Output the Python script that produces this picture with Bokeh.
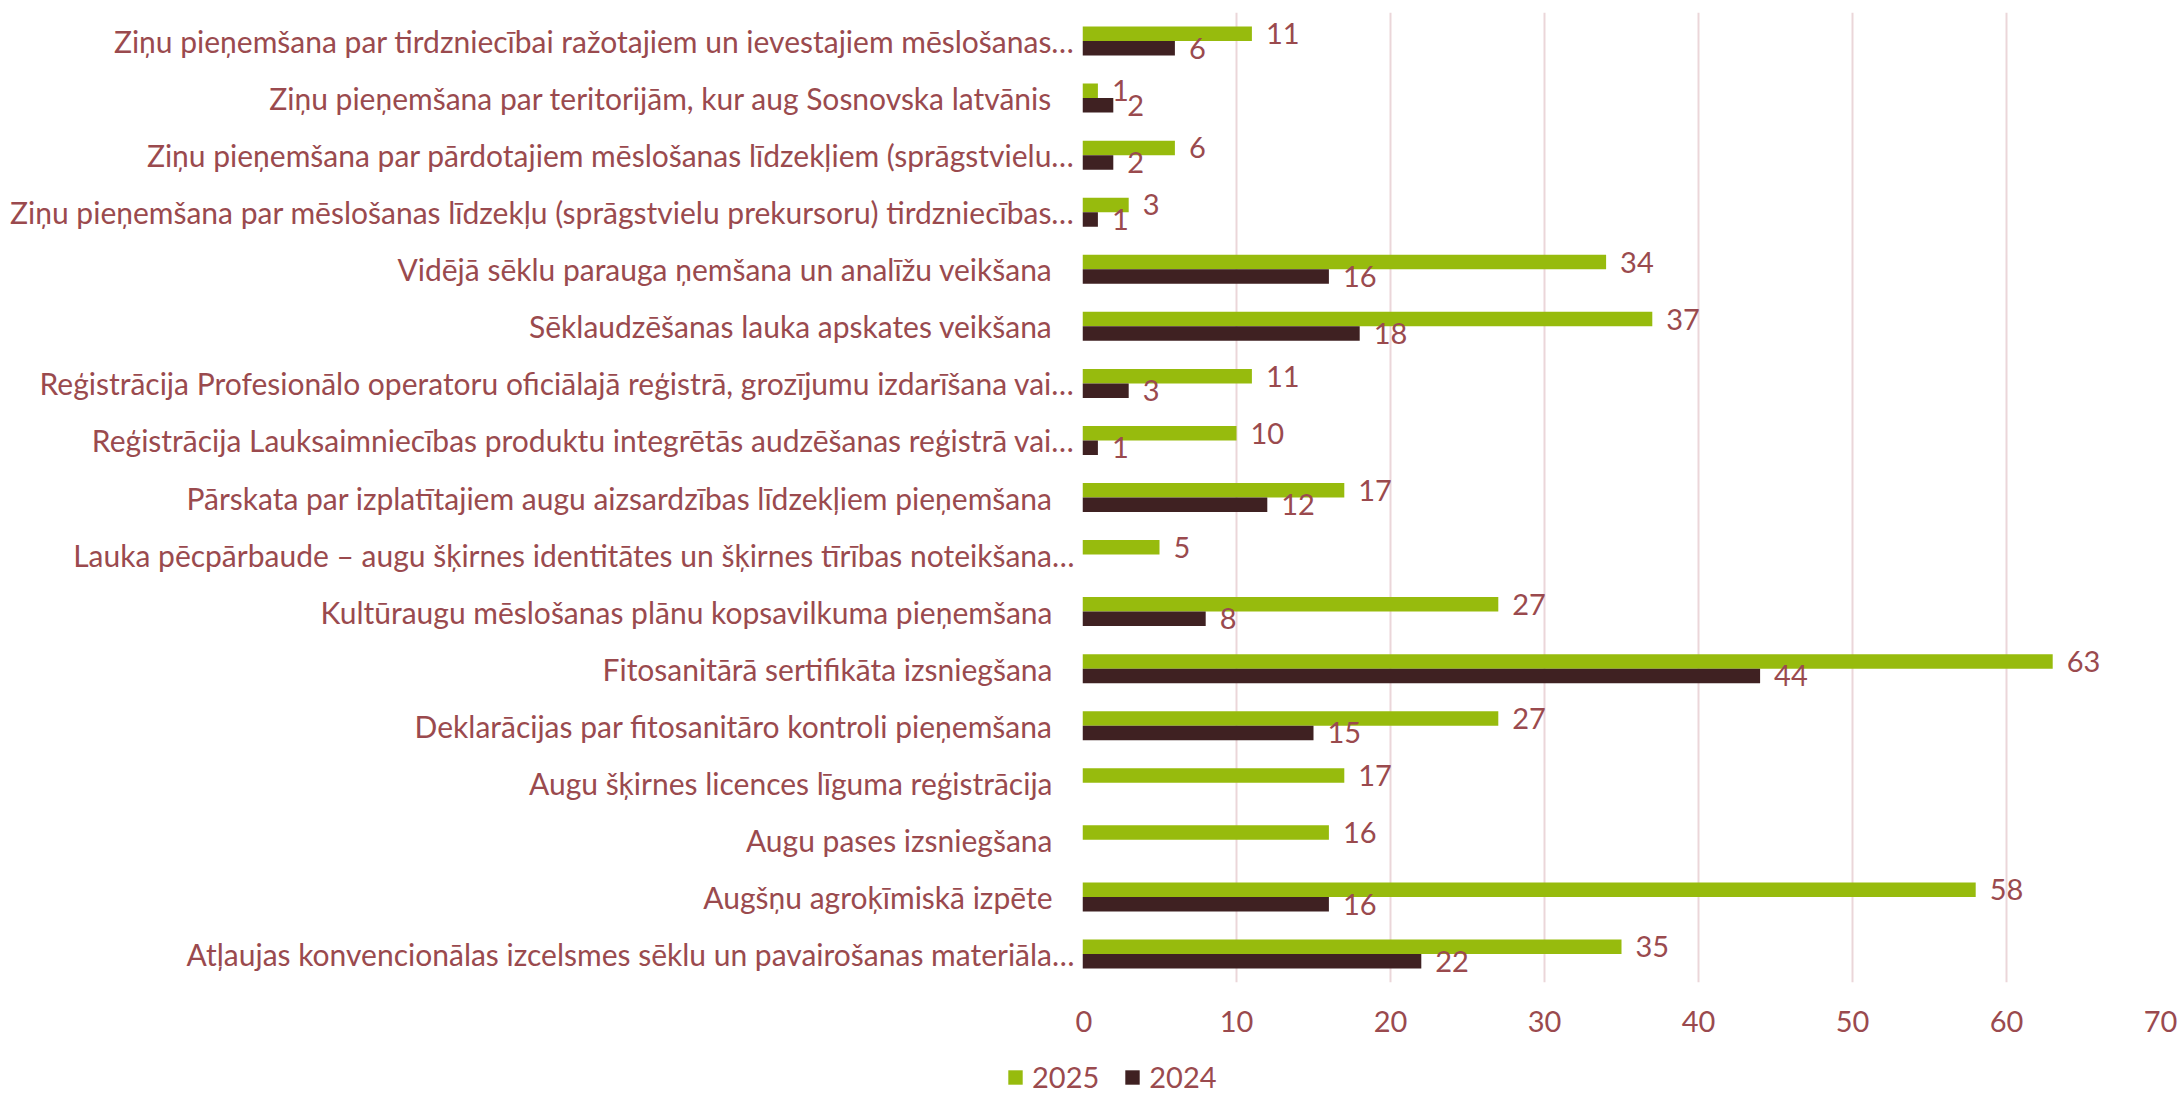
from bokeh.plotting import figure
from bokeh.layouts import column, row
from bokeh.models import (ColumnDataSource, FactorRange, Range1d, FixedTicker,
                          Legend, LegendItem)
from bokeh.transform import dodge
from bokeh.core.properties import value
from bokeh.embed import file_html
from bokeh.resources import INLINE

# ---- data (top to bottom as in the chart) ----
categories = [
    "Ziņu pieņemšana par tirdzniecībai ražotajiem un ievestajiem mēslošanas…",
    "Ziņu pieņemšana par teritorijām, kur aug Sosnovska latvānis",
    "Ziņu pieņemšana par pārdotajiem mēslošanas līdzekļiem (sprāgstvielu…",
    "Ziņu pieņemšana par mēslošanas līdzekļu (sprāgstvielu prekursoru) tirdzniecības…",
    "Vidējā sēklu parauga ņemšana un analīžu veikšana",
    "Sēklaudzēšanas lauka apskates veikšana",
    "Reģistrācija Profesionālo operatoru oficiālajā reģistrā, grozījumu izdarīšana vai…",
    "Reģistrācija Lauksaimniecības produktu integrētās audzēšanas reģistrā vai…",
    "Pārskata par izplatītajiem augu aizsardzības līdzekļiem pieņemšana",
    "Lauka pēcpārbaude – augu šķirnes identitātes un šķirnes tīrības noteikšana…",
    "Kultūraugu mēslošanas plānu kopsavilkuma pieņemšana",
    "Fitosanitārā sertifikāta izsniegšana",
    "Deklarācijas par fitosanitāro kontroli pieņemšana",
    "Augu šķirnes licences līguma reģistrācija",
    "Augu pases izsniegšana",
    "Augšņu agroķīmiskā izpēte",
    "Atļaujas konvencionālas izcelsmes sēklu un pavairošanas materiāla…",
]
values_2025 = [11, 1, 6, 3, 34, 37, 11, 10, 17, 5, 27, 63, 27, 17, 16, 58, 35]
values_2024 = [6, 2, 2, 1, 16, 18, 3, 1, 12, None, 8, 44, 15, None, None, 16, 22]
series_names = ["2025", "2024"]
x_ticks = [0, 10, 20, 30, 40, 50, 60, 70]

# ---- styles ----
FONT = "Lato"
FS = "29px"
FS_CAT = "30px"
TEXT = "#9A4A4E"
GREEN = "#97BB0D"
DARK = "#3F2122"
GRID = "#EBD6D9"

nan = float("nan")
src = ColumnDataSource(dict(
    cat=categories,
    v25=values_2025,
    v24=[nan if v is None else v for v in values_2024],
    t25=[str(v) for v in values_2025],
    t24=["" if v is None else str(v) for v in values_2024],
    anchor=[1] * len(categories),
    xoff=[-1 if c.endswith("…") else -23 for c in categories],
))

TOP, BOTTOM, MAIN_H = 12, 63, 1045
LAB_W = 1075
yr = FactorRange(factors=categories[::-1])

# ---- category label panel ----
lab = figure(width=LAB_W, height=MAIN_H, output_backend="svg", toolbar_location=None,
             y_range=yr, x_range=Range1d(0, 1),
             x_axis_location=None, y_axis_location=None,
             min_border_left=0, min_border_right=0,
             min_border_top=TOP, min_border_bottom=BOTTOM)
lab.text(x="anchor", y="cat", text="cat", x_offset="xoff", source=src,
         text_align="right", text_baseline="middle",
         text_font=value(FONT), text_font_size=FS_CAT, text_color=TEXT)
lab.xgrid.grid_line_color = None
lab.ygrid.grid_line_color = None
lab.outline_line_color = None

# ---- bars ----
p = figure(width=2180 - LAB_W, height=MAIN_H, output_backend="svg", toolbar_location=None,
           y_range=yr, x_range=Range1d(0, 70), y_axis_location=None,
           min_border_left=1082 - LAB_W, min_border_right=20,
           min_border_top=TOP, min_border_bottom=BOTTOM)

off = 0.127
bh = 0.254
r25 = p.hbar(y=dodge("cat", off, range=yr), left=0, right="v25", height=bh,
             source=src, fill_color=GREEN, line_color=None)
r24 = p.hbar(y=dodge("cat", -off, range=yr), left=0, right="v24", height=bh,
             source=src, fill_color=DARK, line_color=None)

p.text(x="v25", y=dodge("cat", off, range=yr), text="t25", source=src,
       x_offset=14, text_align="left", text_baseline="middle",
       text_font=value(FONT), text_font_size=FS, text_color=TEXT)
p.text(x="v24", y=dodge("cat", -off, range=yr), text="t24", source=src,
       x_offset=14, text_align="left", text_baseline="middle",
       text_font=value(FONT), text_font_size=FS, text_color=TEXT)

p.xaxis.ticker = FixedTicker(ticks=x_ticks)
p.xaxis.axis_line_color = None
p.xaxis.major_tick_line_color = None
p.xaxis.minor_tick_line_color = None
p.xaxis.major_label_standoff = 22
p.xaxis.major_label_text_font = FONT
p.xaxis.major_label_text_font_size = FS
p.xaxis.major_label_text_color = TEXT

p.ygrid.grid_line_color = None
p.xgrid.grid_line_color = GRID
p.xgrid.grid_line_width = 2
p.outline_line_color = None

# ---- legend strip ----
lg = figure(width=2180, height=1095 - MAIN_H, output_backend="svg", toolbar_location=None,
            x_range=Range1d(0, 1), y_range=Range1d(0, 1),
            x_axis_location=None, y_axis_location=None,
            min_border=0)
lg.xgrid.grid_line_color = None
lg.ygrid.grid_line_color = None
lg.outline_line_color = None
proxy = ColumnDataSource(dict(y=[nan], right=[nan]))
k25 = lg.hbar(y="y", right="right", height=0.5, source=proxy,
              fill_color=GREEN, line_color=None)
k24 = lg.hbar(y="y", right="right", height=0.5, source=proxy,
              fill_color=DARK, line_color=None)
legend = Legend(items=[LegendItem(label=series_names[0], renderers=[k25]),
                       LegendItem(label=series_names[1], renderers=[k24])],
                orientation="horizontal", location=(1006, 1),
                glyph_width=18, glyph_height=18, label_standoff=8, spacing=24,
                padding=0, margin=0, border_line_color=None,
                background_fill_alpha=0,
                label_text_font=FONT, label_text_font_size=FS,
                label_text_color=TEXT)
lg.add_layout(legend)

layout = column(row(lab, p), lg)
open("out.html", "w").write(file_html(layout, INLINE))
